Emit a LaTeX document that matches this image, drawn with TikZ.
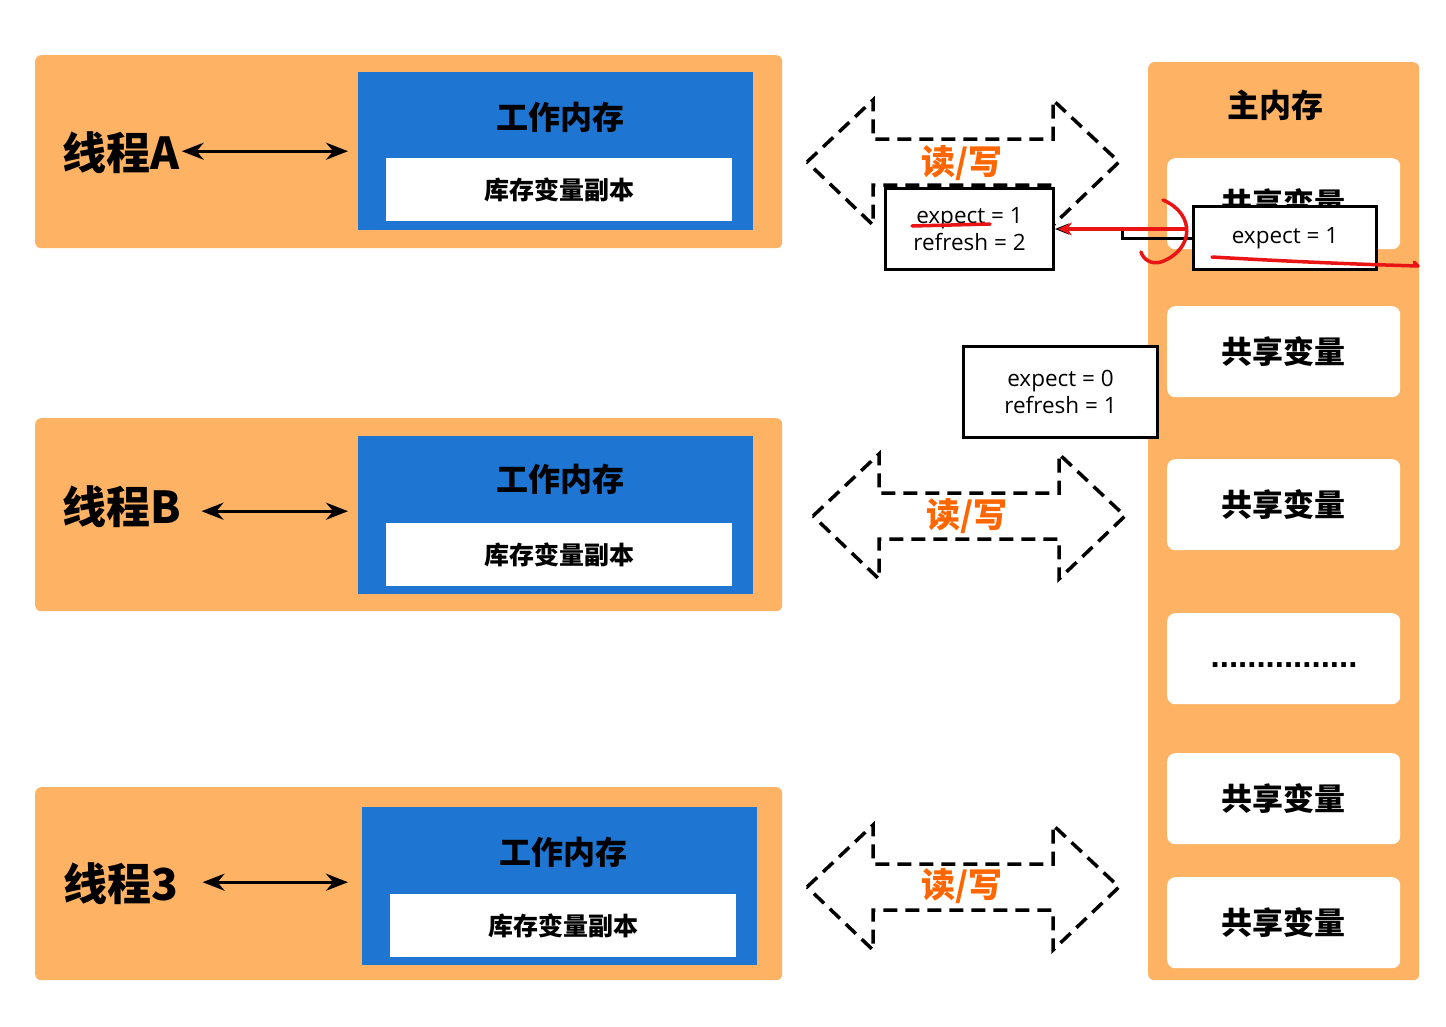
\documentclass[tikz,border=0pt]{standalone}
\usepackage{fontspec}
\newfontfamily\cjk{Noto Sans CJK SC}
\newfontfamily\uifont{Open Sans}
\newfontfamily\dotfont{Liberation Sans}
\usetikzlibrary{arrows.meta}
\definecolor{orangebg}{RGB}{253,178,100}
\definecolor{bluebox}{RGB}{30,118,210}
\definecolor{rwtext}{RGB}{255,102,0}
\definecolor{penred}{RGB}{235,20,20}
\begin{document}
\begin{tikzpicture}[x=1pt,y=-1pt,
  threadbox/.style={fill=orangebg, rounded corners=6pt, minimum width=747pt, minimum height=193pt, anchor=north west, inner sep=0pt},
  workbox/.style={fill=bluebox, minimum width=395pt, minimum height=158pt, anchor=north west, inner sep=0pt},
  copybox/.style={fill=white, minimum width=346pt, minimum height=63pt, anchor=north west, inner sep=0pt, font=\cjk\bfseries\fontsize{25}{25}\selectfont},
  worktitle/.style={inner sep=0pt, font=\cjk\bfseries\fontsize{32}{32}\selectfont},
  threadlabel/.style={inner sep=0pt, font=\cjk\bfseries\fontsize{44}{44}\selectfont},
  biarrow/.style={line width=3pt, {Stealth[length=22pt,width=17pt]}-{Stealth[length=22pt,width=17pt]}},
  memslot/.style={fill=white, rounded corners=8pt, minimum width=233pt, minimum height=91pt, anchor=north west, inner sep=0pt, font=\cjk\bfseries\fontsize{31}{31}\selectfont},
  dottext/.style={inner sep=0pt, font=\dotfont\bfseries\fontsize{33}{33}\selectfont},
  exbox/.style={draw=black, line width=3pt, fill=white, align=center, anchor=north west, inner sep=0pt, font=\uifont\fontsize{22.5}{27}\selectfont},
  dashline/.style={draw=black, line width=3.5pt, dash pattern=on 14pt off 8pt, line join=miter},
  rwlabel/.style={inner sep=0pt, font=\cjk\bfseries\fontsize{34}{34}\selectfont, text=rwtext},
  redpen/.style={draw=penred, line width=3.5pt, line cap=round, line join=round},
  rwarrow/.pic={\path[dashline] (-156,0) -- (-90,-62) -- (-90,-23) -- (90,-23) -- (90,-62) -- (156,0) -- (90,63) -- (90,23) -- (-90,23) -- (-90,63) -- cycle;}
]
\useasboundingbox[fill=white] (0,0) rectangle (1446,1026);

% ---------- Thread A ----------
\node[threadbox] (TA) at (35,55) {};
\node[workbox] (WA) at (358,72) {};
\node[copybox] (CA) at (386,158) {库存变量副本};
\node[worktitle] (WTA) at (560,117) {工作内存};
\node[threadlabel] (LA) at (121,153) {线程A};
\draw[biarrow, shorten <=2pt, shorten >=10pt] (LA.east |- WA.west) -- (WA.west);

% ---------- Thread B ----------
\node[threadbox] (TB) at (35,418) {};
\node[workbox] (WB) at (358,436) {};
\node[copybox] (CB) at (386,523) {库存变量副本};
\node[worktitle] (WTB) at (560,479) {工作内存};
\node[threadlabel] (LB) at (122,507) {线程B};
\draw[biarrow, shorten <=20pt, shorten >=10pt] ([yshift=4pt]LB.east |- WB.west) -- ([yshift=4pt]WB.west);

% ---------- Thread 3 ----------
\node[threadbox] (T3) at (35,787) {};
\node[workbox] (W3) at (362,807) {};
\node[copybox] (C3) at (390,894) {库存变量副本};
\node[worktitle] (WT3) at (563,852) {工作内存};
\node[threadlabel] (L3) at (121,884) {线程3};
\draw[biarrow, shorten <=24pt, shorten >=14pt] ([yshift=4pt]L3.east |- W3.west) -- ([yshift=4pt]W3.west);

% ---------- Main memory ----------
\node[threadbox, minimum width=271pt, minimum height=918pt] (MM) at (1148,62) {};
\node[worktitle] (MMT) at (1275,105) {主内存};
\node[memslot] (S1) at (1167,158) {共享变量};
\node[memslot] (S2) at (1167,306) {共享变量};
\node[memslot] (S3) at (1167,459) {共享变量};
\node[memslot] (S4) at (1167,613) {};
\node[dottext] (S4t) at (1284,665) {................};
\node[memslot] (S5) at (1167,753) {共享变量};
\node[memslot] (S6) at (1167,877) {共享变量};

% ---------- read/write arrows ----------
\pic at (963,162) {rwarrow};
\pic at (969,516) {rwarrow};
\pic at (963,887) {rwarrow};
\node[rwlabel] (RW1) at (962,163) {读/写};
\node[rwlabel] (RW2) at (967,516) {读/写};
\node[rwlabel] (RW3) at (962,886) {读/写};

% ---------- value boxes ----------
\node[exbox, minimum width=168pt, minimum height=81pt] (E1) at (884,187) {expect = 1\\refresh = 2};
\node[exbox, minimum width=194pt, minimum height=91pt] (E2) at (962,345) {expect = 0\\refresh = 1};
\node[exbox, minimum width=183pt, minimum height=63pt] (E3) at (1192,205) {expect = 1};

\draw[line width=3pt, -{Stealth[length=14pt,width=11pt]}] (E3.west) -- ++(-70,0) |- (E1.east);

% ---------- red annotations ----------
\draw[redpen, -{Stealth[length=14pt,width=13pt]}, shorten <=7pt, shorten >=3pt] (E3.west |- E1.east) -- (E1.east);
\draw[redpen] (1163,200) .. controls (1196,214) and (1194,250) .. (1161,262) .. controls (1151,265) and (1143,259) .. (1141,252);
\draw[redpen] (912,226) -- (990,224);
\draw[redpen] (1212,257) .. controls (1300,262) and (1350,264) .. (1418,266) -- (1414,262);
\end{tikzpicture}
\end{document}
